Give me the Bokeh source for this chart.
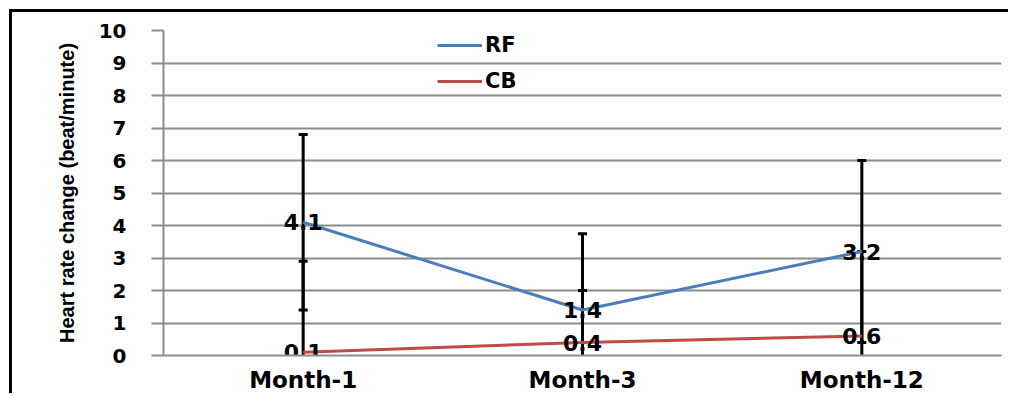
from bokeh.plotting import figure
from bokeh.models import ColumnDataSource, Whisker, TeeHead, Range1d, Legend, LegendItem
from bokeh.core.properties import value
from bokeh.embed import file_html
from bokeh.resources import INLINE

months = ["Month-1", "Month-3", "Month-12"]
rf = [4.1, 1.4, 3.2]
rf_err = [2.7, 2.35, 2.8]
cb = [0.1, 0.4, 0.6]
cb_err = [2.8, 1.6, 2.6]
rf_labels = ["4.1", "1.4", "3.2"]
cb_labels = ["0.1", "0.4", "0.6"]
y_ticks = list(range(0, 11))

src_rf = ColumnDataSource(dict(x=months, y=rf, lo=[v - e for v, e in zip(rf, rf_err)],
                               hi=[v + e for v, e in zip(rf, rf_err)], t=rf_labels))
src_cb = ColumnDataSource(dict(x=months, y=cb, lo=[v - e for v, e in zip(cb, cb_err)],
                               hi=[v + e for v, e in zip(cb, cb_err)], t=cb_labels))

W, H = 999, 384
p = figure(x_range=months, width=W, height=H, output_backend="svg", toolbar_location=None,
           min_border_left=151, min_border_top=18, min_border_right=10, min_border_bottom=41)
# outer black frame of the original picture (left and top edges)
p.styles = {"margin-left": "9px", "margin-top": "9px",
            "border-left": "3px solid black", "border-top": "3px solid black"}
p.y_range = Range1d(0, 10)
p.x_range.range_padding = 0
p.outline_line_color = None
p.background_fill_color = "white"

BLUE = "#4A7EBB"
RED = "#BE4B48"

r_rf = p.line("x", "y", source=src_rf, line_color=BLUE, line_width=3)
r_cb = p.line("x", "y", source=src_cb, line_color=RED, line_width=3)

for s in (src_rf, src_cb):
    w = Whisker(base="x", upper="hi", lower="lo", source=s, line_color="black", line_width=3,
                upper_head=TeeHead(size=9, line_width=3, line_color="black"),
                lower_head=TeeHead(size=9, line_width=3, line_color="black"))
    p.add_layout(w)

for s in (src_rf, src_cb):
    p.text("x", "y", text="t", source=s, text_align="center", text_baseline="middle",
           text_font=value("DejaVu Sans"), text_font_style="bold", text_font_size="22px",
           text_color="black")

legend = Legend(items=[LegendItem(label="RF", renderers=[r_rf]), LegendItem(label="CB", renderers=[r_cb])],
                location=(274, 262), orientation="vertical", background_fill_alpha=0,
                border_line_color=None, label_text_font="DejaVu Sans", label_text_font_style="bold",
                label_text_font_size="21px", label_text_color="black", glyph_width=45, glyph_height=22,
                label_height=22, spacing=12, padding=0, margin=0, label_standoff=3)
p.add_layout(legend)

p.xgrid.grid_line_color = None
p.ygrid.grid_line_color = "#8c8c8c"
p.ygrid.grid_line_width = 2
p.yaxis.ticker = y_ticks
p.yaxis.axis_line_color = "#8c8c8c"
p.yaxis.axis_line_width = 2
p.yaxis.major_tick_line_color = "#8c8c8c"
p.yaxis.major_tick_line_width = 2
p.yaxis.major_tick_out = 12
p.yaxis.major_tick_in = 0
p.yaxis.minor_tick_line_color = None
p.yaxis.minor_tick_out = 0
p.yaxis.major_label_standoff = 25
p.yaxis.major_label_text_font = "DejaVu Sans"
p.yaxis.major_label_text_font_style = "bold"
p.yaxis.major_label_text_font_size = "20px"
p.yaxis.major_label_text_color = "black"
p.yaxis.axis_label = "Heart rate change (beat/minute)"
p.yaxis.axis_label_text_font = "Liberation Sans"
p.yaxis.axis_label_text_font_style = "bold"
p.yaxis.axis_label_text_font_size = "20px"
p.yaxis.axis_label_standoff = 18
p.yaxis.axis_label_text_color = "black"

p.xaxis.axis_line_color = "#8c8c8c"
p.xaxis.axis_line_width = 2
p.xaxis.major_tick_line_color = None
p.xaxis.major_tick_out = 0
p.xaxis.major_tick_in = 0
p.xaxis.major_label_standoff = 11
p.xaxis.major_label_text_font = "DejaVu Sans"
p.xaxis.major_label_text_font_style = "bold"
p.xaxis.major_label_text_font_size = "23px"
p.xaxis.major_label_text_color = "black"

open("out.html", "w").write(file_html(p, INLINE))
